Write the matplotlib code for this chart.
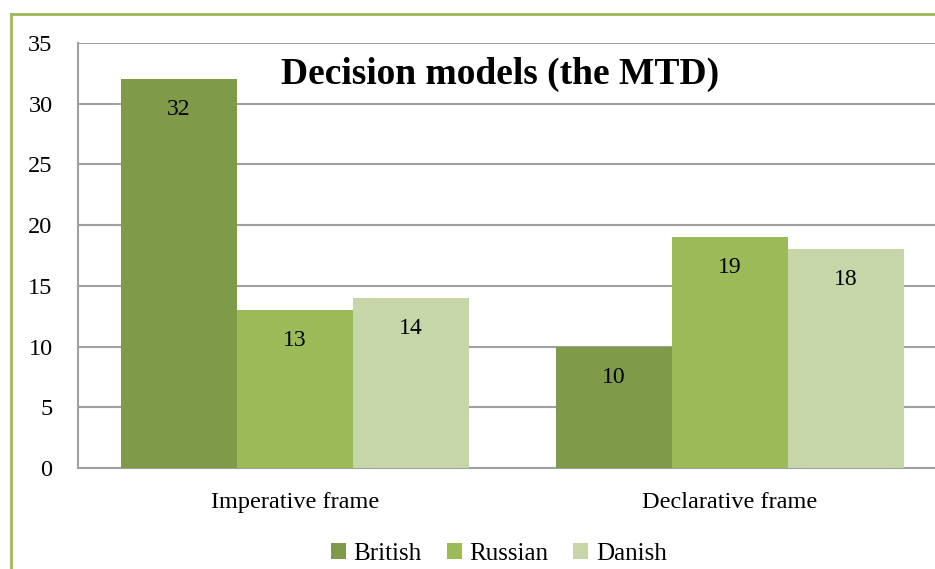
import matplotlib
matplotlib.use("Agg")
import matplotlib.pyplot as plt
from matplotlib.lines import Line2D
import numpy as np

categories = ["Imperative frame", "Declarative frame"]
series = ["British", "Russian", "Danish"]
british = [32, 10]
russian = [13, 19]
danish = [14, 18]
colors = ["#7F9B4A", "#9BBB59", "#C6D6A8"]

plt.rcParams["font.family"] = ["Liberation Serif", "DejaVu Serif"]

fig = plt.figure(figsize=(9.35, 5.69), dpi=100)
# axes runs past the right edge, like the cropped original
ax = fig.add_axes([77.5 / 935, 101 / 569, 870 / 935, 425 / 569])

x = np.arange(len(categories))
bw = 116 / 435
for i, (vals, c, name) in enumerate(zip([british, russian, danish], colors, series)):
    pos = x + (i - 1) * bw
    bars = ax.bar(pos, vals, width=bw, color=c, label=name, zorder=3)
    for b, v in zip(bars, vals):
        ax.annotate(str(v), (b.get_x() + b.get_width() / 2, v),
                    xytext=(0, -22), textcoords="offset points",
                    ha="center", va="center", fontsize=17, zorder=4)

ax.set_xlim(-0.5, 1.5)
ax.set_ylim(0, 35)
ax.set_yticks(range(0, 36, 5))
ax.set_xticks(x)
ax.set_xticklabels(categories, fontsize=17.5)
ax.tick_params(axis="y", labelsize=17.5, length=0, pad=18)
ax.tick_params(axis="x", length=0, pad=17)
ax.grid(axis="y", color="#A0A0A0", lw=1.5, zorder=0)
for s in ["top", "right"]:
    ax.spines[s].set_visible(False)
for s in ["left", "bottom"]:
    ax.spines[s].set_color("#A0A0A0")
    ax.spines[s].set_linewidth(1.5)

fig.text(500 / 935, 1 - 74 / 569, "Decision models (the MTD)", fontsize=27,
         fontweight="bold", ha="center", va="center")

ax.legend(loc="center", bbox_to_anchor=(499 / 935, 1 - 554 / 569),
          bbox_transform=fig.transFigure, ncol=3, frameon=False, fontsize=18,
          handlelength=0.6, handleheight=0.6, handletextpad=0.3, columnspacing=1.0)

# green outer frame (left and top edges visible)
fig.add_artist(Line2D([11 / 935, 11 / 935], [0, 1 - 14 / 569], color="#9BBB59", lw=2,
                      transform=fig.transFigure))
fig.add_artist(Line2D([11 / 935, 1], [1 - 14 / 569, 1 - 14 / 569], color="#9BBB59", lw=2,
                      transform=fig.transFigure))

fig.savefig("out.png", dpi=100)
